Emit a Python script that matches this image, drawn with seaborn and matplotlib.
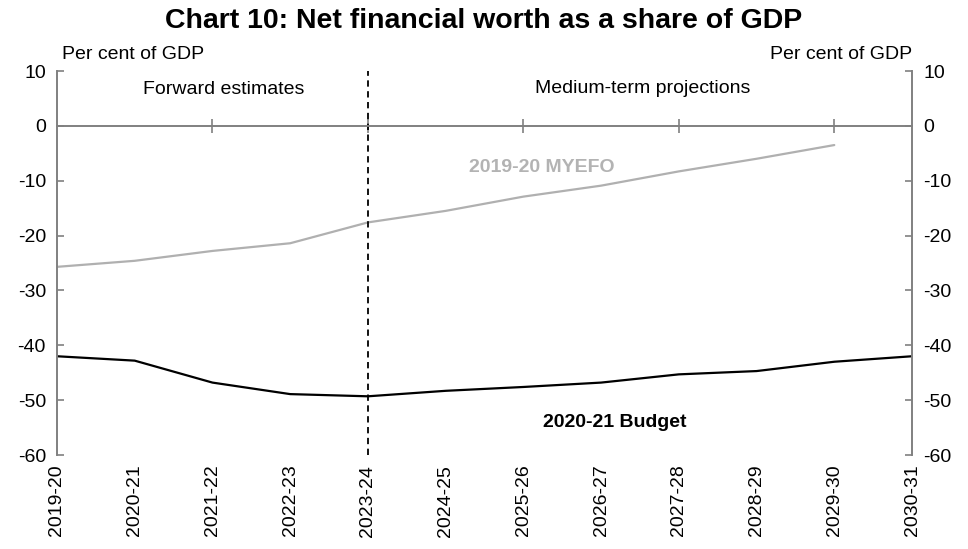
import matplotlib
matplotlib.use("Agg")
import matplotlib.pyplot as plt
import seaborn as sns
import pandas as pd
from matplotlib.ticker import FixedLocator

years = ["2019-20", "2020-21", "2021-22", "2022-23", "2023-24", "2024-25",
         "2025-26", "2026-27", "2027-28", "2028-29", "2029-30", "2030-31"]
budget = [-42.0, -42.8, -46.8, -48.9, -49.3, -48.3, -47.6, -46.8, -45.3, -44.7, -43.0, -42.0]
myefo = [-25.7, -24.6, -22.8, -21.4, -17.6, -15.5, -12.9, -10.9, -8.3, -6.0, -3.5, None]

sns.set_style("white")
plt.rcParams["font.family"] = ["Liberation Sans", "DejaVu Sans"]
plt.rcParams["axes.unicode_minus"] = False
plt.rcParams["text.color"] = "black"
plt.rcParams["xtick.color"] = "black"
plt.rcParams["ytick.color"] = "black"

df = pd.DataFrame({"idx": range(len(years)), "year": years,
                   "budget": budget, "myefo": myefo})

fig = plt.figure(figsize=(9.68, 5.49), dpi=100)
ax = fig.add_axes([57 / 968, 94 / 549, 855 / 968, 384 / 549])

sns.lineplot(data=df, x="idx", y="myefo", ax=ax, color="#b0b0b0", lw=1.6)
sns.lineplot(data=df, x="idx", y="budget", ax=ax, color="black", lw=1.6)

ax.set_xlim(0, len(years) - 1)
ax.set_ylim(-60, 10)
ax.set_xlabel("")
ax.set_ylabel("")

# move the top spine down to the zero line (do this first: it resets ticks)
ax.spines["top"].set_position(("data", 0))
ax.spines["bottom"].set_visible(False)

# vertical separator between forward estimates and projections
ax.axvline(4, color="black", lw=1.3, ls=(0, (3.5, 2.5)))

# x axis: labels along the bottom, tick marks on the zero line
ax.set_xticks(df["idx"])
ax.set_xticklabels(years, rotation=90, fontsize=14)
ax.xaxis.set_minor_locator(FixedLocator([2, 4, 6, 8, 10]))
ax.xaxis.remove_overlapping_locs = False
ax.tick_params(axis="x", which="major", length=0, pad=7, top=False, bottom=True)
ax.tick_params(axis="x", which="minor", bottom=False, top=True,
               direction="inout", length=10, width=1.2, color="#808080")

ax.set_yticks(range(-60, 11, 10))
ax.tick_params(axis="y", direction="in", length=5, width=1.2, color="#808080",
               labelcolor="black", labelsize=14, left=True, right=True,
               labelleft=True, labelright=True, pad=8)

for s in ["top", "left", "right"]:
    ax.spines[s].set_color("#808080")
    ax.spines[s].set_linewidth(1.4)

ax.text(0.006, 1.02, "Per cent of GDP", transform=ax.transAxes, fontsize=14,
        ha="left", va="bottom")
ax.text(1.0, 1.02, "Per cent of GDP", transform=ax.transAxes, fontsize=14,
        ha="right", va="bottom")

ax.text(2.15, 6.7, "Forward estimates", fontsize=14, ha="center", va="center")
ax.text(7.53, 6.9, "Medium-term projections", fontsize=14, ha="center", va="center")
ax.text(6.24, -7.6, "2019-20 MYEFO", fontsize=14, ha="center", va="center",
        color="#b3b3b3", fontweight="bold")
ax.text(7.18, -54.1, "2020-21 Budget", fontsize=14, ha="center", va="center",
        color="black", fontweight="bold")

fig.suptitle("Chart 10: Net financial worth as a share of GDP", x=0.5, y=0.985,
             fontsize=20.5, fontweight="bold", va="top")

fig.savefig("out.png", dpi=100)
